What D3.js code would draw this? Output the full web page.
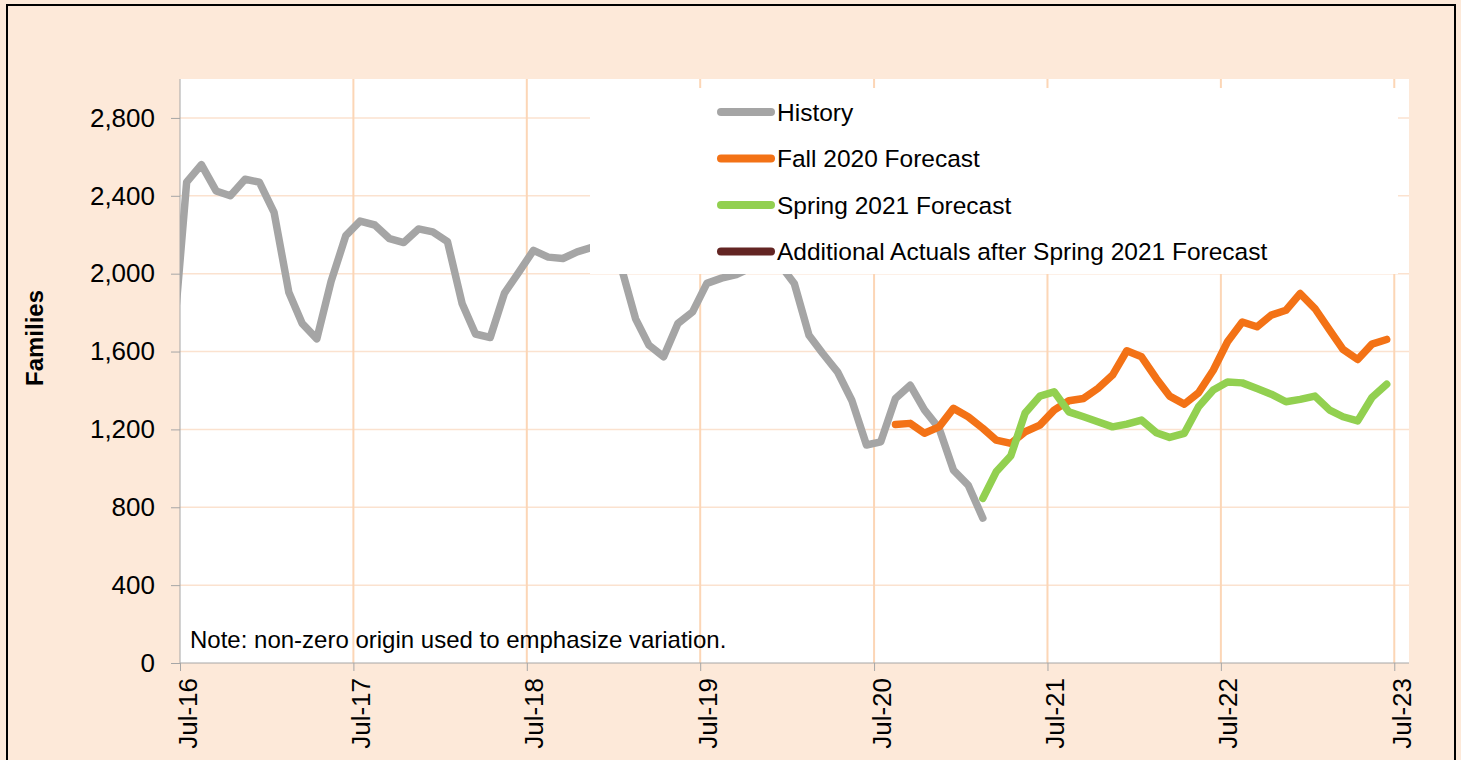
<!DOCTYPE html>
<html>
<head>
<meta charset="utf-8">
<script src="https://cdn.jsdelivr.net/npm/d3@7"></script>
<style>
  html, body { margin: 0; padding: 0; background: #FDE9D9; }
  svg { display: block; font-family: "Liberation Sans", Arial, sans-serif; }
</style>
</head>
<body>
<svg id="chart" width="1461" height="760"></svg>
<script>
// ---------- data ----------
const historyStart = [2016, 5];   // Jun-2016 (year, monthIndex)
const historyValues = [1600, 2470, 2560, 2425, 2400, 2485, 2470, 2315, 1905, 1745, 1665, 1960,
  2195, 2270, 2250, 2180, 2160, 2230, 2215, 2165, 1845, 1690, 1672, 1900,
  2010, 2120, 2085, 2078, 2112, 2135, 2150, 2040, 1768, 1633, 1573, 1744,
  1804, 1950, 1977, 1995, 2030, 2050, 2050, 1950, 1684, 1590, 1496, 1350,
  1120, 1136, 1359, 1427, 1300, 1205, 991, 914, 744];
const fallStart = [2020, 7];      // Aug-2020
const fallValues = [1225, 1231, 1180, 1213, 1308, 1265, 1205, 1145, 1128, 1188, 1222, 1299,
  1347, 1359, 1410, 1479, 1604, 1573, 1462, 1371, 1330, 1388, 1504, 1650,
  1752, 1727, 1787, 1812, 1898, 1821, 1710, 1611, 1559, 1638, 1662];
const springStart = [2021, 1];    // Feb-2021
const springValues = [846, 982, 1065, 1284, 1371, 1393, 1290, 1265, 1239, 1213, 1227, 1248,
  1183, 1159, 1180, 1316, 1402, 1444, 1439, 1410, 1381, 1342, 1354, 1371,
  1299, 1265, 1244, 1364, 1432];
const additionalStart = [2021, 7];
const additionalValues = [];
const seriesNames = ["History", "Fall 2020 Forecast", "Spring 2021 Forecast", "Additional Actuals after Spring 2021 Forecast"];
const seriesColors = ["#A5A5A5", "#F37216", "#92D050", "#632523"];
const yTicks = [0, 400, 800, 1200, 1600, 2000, 2400, 2800];
const xTickYears = [2016, 2017, 2018, 2019, 2020, 2021, 2022, 2023];
const yTitle = "Families";
const noteText = "Note: non-zero origin used to emphasize variation.";

// ---------- layout ----------
const svg = d3.select("#chart");
const L = 180, R = 1409, T = 79, B = 663;

const x = d3.scaleTime()
  .domain([new Date(2016, 6, 1), new Date(2023, 7, 1)])
  .range([L, R]);
const y = d3.scaleLinear().domain([0, 3000]).range([B, T]);

function toPoints(start, values) {
  return values.map((v, i) => ({ date: new Date(start[0], start[1] + i, 15), value: v }));
}
const series = [
  toPoints(historyStart, historyValues),
  toPoints(fallStart, fallValues),
  toPoints(springStart, springValues),
  toPoints(additionalStart, additionalValues)
];

// outer frame
svg.append("rect").attr("x", 0).attr("y", 0).attr("width", 1461).attr("height", 760).attr("fill", "#FDE9D9");
svg.append("rect").attr("x", 7).attr("y", 5).attr("width", 1448).attr("height", 780)
  .attr("fill", "none").attr("stroke", "#000").attr("stroke-width", 2);

// plot area
svg.append("rect").attr("x", L).attr("y", T).attr("width", R - L).attr("height", B - T).attr("fill", "#fff");

// horizontal gridlines
svg.append("g").selectAll("line").data(yTicks.filter(d => d > 0)).join("line")
  .attr("x1", L).attr("x2", R).attr("y1", d => y(d)).attr("y2", d => y(d))
  .attr("stroke", "#FBE2CF").attr("stroke-width", 1.5);

// vertical gridlines
const xTickDates = xTickYears.map(yr => new Date(yr, 6, 1));
svg.append("g").selectAll("line").data(xTickDates.slice(1)).join("line")
  .attr("x1", d => x(d)).attr("x2", d => x(d)).attr("y1", T).attr("y2", B)
  .attr("stroke", "#FCD6B6").attr("stroke-width", 2);

// clip
svg.append("clipPath").attr("id", "plotclip").append("rect")
  .attr("x", L).attr("y", T).attr("width", R - L).attr("height", B - T);

const line = d3.line().x(d => x(d.date)).y(d => y(d.value));
svg.append("g").attr("clip-path", "url(#plotclip)")
  .selectAll("path").data(series).join("path")
  .attr("d", d => d.length ? line(d) : null)
  .attr("fill", "none")
  .attr("stroke", (d, i) => seriesColors[i])
  .attr("stroke-width", 7.5)
  .attr("stroke-linejoin", "round")
  .attr("stroke-linecap", "round");

// legend
const lg = svg.append("g");
lg.append("rect").attr("x", 590).attr("y", 88).attr("width", 808).attr("height", 186).attr("fill", "#fff");
const rowY = [112, 158.5, 205, 251.5];
const items = lg.selectAll("g.item").data(seriesNames).join("g").attr("class", "item")
  .attr("transform", (d, i) => `translate(0,${rowY[i]})`);
items.append("line").attr("x1", 721).attr("x2", 771).attr("y1", 0).attr("y2", 0)
  .attr("stroke", (d, i) => seriesColors[i]).attr("stroke-width", 8).attr("stroke-linecap", "round");
items.append("text").attr("x", 777).attr("y", 0).attr("dy", "0.35em")
  .attr("font-size", 24.5).attr("fill", "#000").text(d => d);

// y axis
const yAxis = d3.axisLeft(y).tickValues(yTicks).tickFormat(d3.format(",")).tickSize(9).tickPadding(16);
const gy = svg.append("g").attr("transform", `translate(${L},0)`).call(yAxis);
gy.select(".domain").attr("stroke", "#A6A6A6").attr("d", `M0,${T}V${B}`);
gy.selectAll(".tick line").attr("stroke", "#A6A6A6");
gy.selectAll(".tick text").attr("font-size", 26).attr("fill", "#000")
  .attr("font-family", "Liberation Sans, Arial, sans-serif");

// x axis
const xAxis = d3.axisBottom(x).tickValues(xTickDates).tickFormat(d3.timeFormat("%b-%y")).tickSize(8);
const gx = svg.append("g").attr("transform", `translate(0,${B})`).call(xAxis);
gx.select(".domain").attr("stroke", "#A6A6A6").attr("d", `M${L},0H${R}`);
gx.selectAll(".tick line").attr("stroke", "#A6A6A6");
gx.selectAll(".tick text")
  .attr("font-size", 26).attr("fill", "#000")
  .attr("font-family", "Liberation Sans, Arial, sans-serif")
  .attr("text-anchor", "end")
  .attr("transform", "translate(0,15) rotate(-90)")
  .attr("x", 0).attr("y", 0).attr("dy", "16");

// y title
svg.append("text").attr("transform", "translate(43,338) rotate(-90)")
  .attr("text-anchor", "middle").attr("font-size", 24).attr("font-weight", "bold")
  .text(yTitle);

// note
svg.append("text").attr("x", 190).attr("y", 648).attr("font-size", 24).text(noteText);
</script>
</body>
</html>
